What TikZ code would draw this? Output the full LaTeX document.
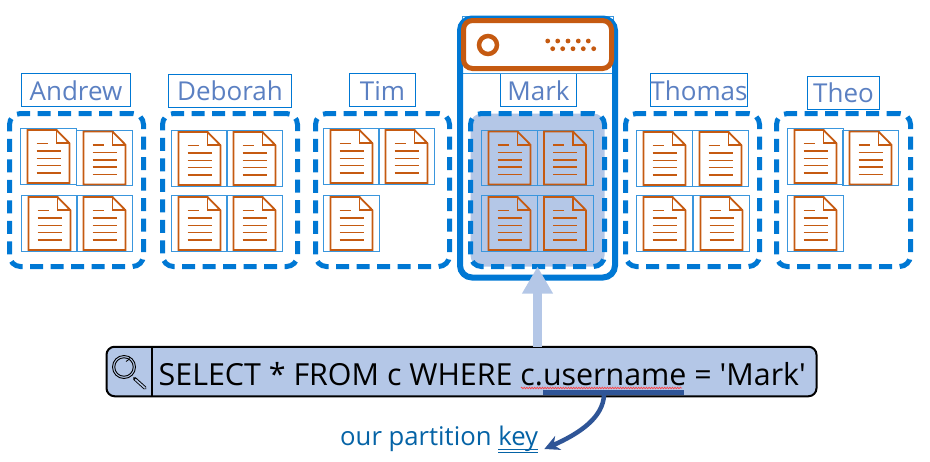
\documentclass[tikz,border=0pt]{standalone}
\usepackage{fontspec}
\setmainfont{Open Sans}
\newfontfamily\sqlfont{Open Sans}
\usetikzlibrary{arrows.meta,decorations.pathmorphing,calc}
\definecolor{azure}{HTML}{0078D4}
\definecolor{cellblue}{HTML}{3A96DD}
\definecolor{docorange}{HTML}{C55A11}
\definecolor{palefill}{HTML}{B4C7E7}
\definecolor{labeltext}{HTML}{5B80C2}
\definecolor{keyblue}{HTML}{2F5597}
\definecolor{ptext}{HTML}{0563A6}
\tikzset{
  partbox/.style={draw=azure,line width=5pt,rounded corners=11pt,inner sep=0pt,outer sep=0pt,dash pattern=on 13pt off 7.5pt},
  namebox/.style={draw=azure,line width=1pt,inner sep=0pt,outer sep=0pt,text=labeltext,font=\fontsize{26pt}{28pt}\selectfont,text height=26.5pt,text depth=6.5pt,minimum height=33pt},
  cellbox/.style={draw=cellblue,line width=1pt,inner sep=0pt,outer sep=0pt,minimum width=56pt,minimum height=55.5pt},
  docline/.style={draw=docorange,line width=1.5pt},
  docbody/.style={draw=docorange,line width=1.8pt,line join=miter},
}
% part box: name, x1, x2
\newcommand{\partboxat}[4][]{%
  \pgfmathsetmacro{\pw}{#4-#3-5}%
  \pgfmathsetmacro{\pc}{(#3+#4)/2}%
  \node[partbox,#1,minimum width=\pw pt,minimum height=153pt] (#2) at (\pc,190) {};}
% name label: node name, x1, x2, y1, text
\newcommand{\nameat}[5]{%
  \pgfmathsetmacro{\pw}{#3-#2}%
  \pgfmathsetmacro{\pc}{(#2+#3)/2}%
  \pgfmathsetmacro{\py}{#4+16.5}%
  \node[namebox,minimum width=\pw pt] (#1) at (\pc,\py) {#5};}
% doc cell: node name, left, top
\newcommand{\docat}[3]{%
  \node[cellbox,anchor=north west] (#1) at (#2,#3) {};
  \begin{scope}[shift={(#1.north west)},xshift=7pt,yshift=-1.5pt]
    \draw[docbody] (0,0) -- (29,0) -- (42,13.3) -- (42,53) -- (0,53) -- cycle;
    \draw[docbody] (29,0) -- (29,13.3) -- (42,13.3);
    \draw[docline] (9,13.3) -- (20,13.3);
    \foreach \ly in {21,28.3,35.7,43} \draw[docline] (9,\ly) -- (33.4,\ly);
  \end{scope}}
\newcommand{\dblul}[1]{\setbox0\hbox{#1}\rlap{\rule[-5pt]{\wd0}{.8pt}}\rlap{\rule[-7.5pt]{\wd0}{.8pt}}#1}
\begin{document}
\begin{tikzpicture}[x=1pt,y=-1pt]
\useasboundingbox (0,0) rectangle (930,461);
% partition boxes
\partboxat{andrewpart}{7}{146}
\partboxat{deborahpart}{160}{300}
\partboxat{timpart}{313}{452}
\partboxat[fill=palefill]{markpart}{468}{607}
\partboxat{thomaspart}{623}{762}
\partboxat{theopart}{774}{913}
% names
\nameat{andrew}{21.5}{130.5}{73.5}{Andrew}
\nameat{deborah}{168.5}{291.5}{74}{Deborah}
\nameat{tim}{349.5}{415.5}{73.5}{Tim}
\nameat{mark}{500.5}{576.5}{73.5}{Mark}
\nameat{thomas}{651.5}{746.5}{73.5}{Thomas}
\nameat{theo}{807.5}{879.5}{76}{Theo}
% documents
\docat{a1}{20.5}{128.5}\docat{a2}{76.5}{130}\docat{a3}{21.5}{195.5}\docat{a4}{76.5}{195.5}
\docat{d1}{171.5}{130.5}\docat{d2}{226.5}{130.5}\docat{d3}{171.5}{195.5}\docat{d4}{226.5}{195.5}
\docat{t1}{323.5}{128.5}\docat{t2}{378.5}{128.5}\docat{t3}{323.5}{195.5}
\docat{m1}{481.5}{130}\docat{m2}{537}{130}\docat{m3}{481.5}{195.5}\docat{m4}{537}{195.5}
\docat{h1}{636.5}{130.5}\docat{h2}{692.5}{130.5}\docat{h3}{636.5}{195.5}\docat{h4}{693.5}{195.5}
\docat{e1}{787.5}{128.5}\docat{e2}{842.5}{130}\docat{e3}{787.5}{195.5}
% server
\node[draw=cellblue,line width=1pt,inner sep=0pt,outer sep=0pt,minimum width=151pt,minimum height=57pt] (servercell) at (537.5,44.5) {};
\node[draw=azure,line width=6pt,rounded corners=12pt,inner sep=0pt,outer sep=0pt,minimum width=155pt,minimum height=259pt] (markouter) at (537.5,148) {};
\node[draw=docorange,line width=5pt,fill=white,rounded corners=9pt,inner sep=0pt,outer sep=0pt,minimum width=148pt,minimum height=48pt] (server) at (537.5,44.5) {};
\node[draw=docorange,line width=4.5pt,circle,inner sep=0pt,minimum size=18pt] (serverdisk) at (488,45) {};
\foreach \dx in {547.7,557.7,568,578.3,588.3} \fill[docorange] (\dx,41) circle (2.4pt);
\foreach \dx in {552.7,562.7,573,583.3,593.7} \fill[docorange] (\dx,48.7) circle (2.4pt);
% query bar
\node[draw=black,line width=2pt,fill=palefill,rounded corners=8pt,inner sep=0pt,outer sep=0pt,minimum width=710pt,minimum height=49.5pt] (query) at (461.5,371.5) {};
\coordinate (divtop) at (152,346.7);
\draw[black,line width=1.5pt] (divtop) -- (divtop |- query.south);
\node[anchor=base west,inner sep=0pt,font=\sqlfont\fontsize{30.4pt}{34pt}\selectfont,text=black] (querytext) at (158.5,385) {SELECT * FROM c WHERE c.username = 'Mark'};
% magnifier
\node[draw=black,line width=.9pt,circle,inner sep=0pt,minimum size=23pt] (lens) at (124,367) {};
\node[draw=black,line width=.9pt,circle,inner sep=0pt,minimum size=18.5pt] (lensin) at (124,367) {};
\draw[black,line width=3.4pt,line cap=round] (134.5,378.5) -- (145,388);
\draw[palefill,line width=1.6pt,line cap=round] (135.5,379.5) -- (145,388);
\draw[black,line width=.8pt] (126,361.5) arc[start angle=-70,end angle=-10,radius=6pt];
% underlines
\draw[red!75!white,line width=.7pt,decorate,decoration={zigzag,segment length=2.6pt,amplitude=.8pt}] (521,388) -- (682,388);
\node[fill=keyblue,inner sep=0pt,outer sep=0pt,minimum width=141pt,minimum height=5pt] (keybar) at (613.5,392.5) {};
% partition key
\node[anchor=base west,inner sep=0pt,text=ptext,font=\fontsize{25.7pt}{28pt}\selectfont] (ptextnode) at (340,445) {our partition \dblul{key}};
% connectors
\draw[palefill,line width=9pt,-{Triangle[width=29pt,length=27pt]}] (markpart.south |- query.north) -- (markpart.south);
\draw[keyblue,line width=4.5pt,-{Stealth[width=15pt,length=15pt]}] ([xshift=-9.5pt]keybar.south) .. controls (603,416) and (583,432) .. ([xshift=6pt,yshift=-4pt]ptextnode.base east);
\end{tikzpicture}
\end{document}
